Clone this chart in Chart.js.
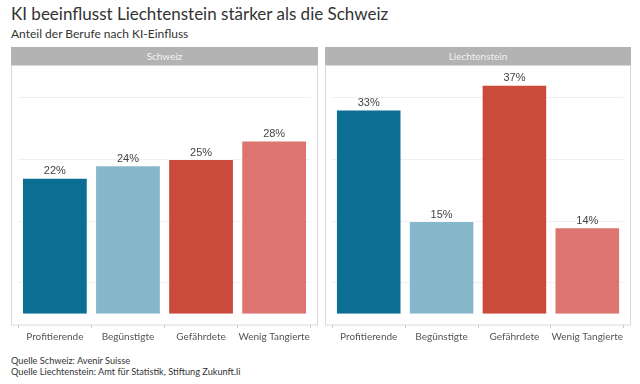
<!DOCTYPE html>
<html>
<head>
<meta charset="utf-8">
<script src="https://cdn.jsdelivr.net/npm/chart.js@4"></script>
<style>
  body { margin: 0; width: 640px; height: 384px; background: #fff; font-family: Lato, sans-serif; position: relative; overflow: hidden; }
  .title { position: absolute; left: 11px; top: 3px; font-size: 17px; color: #333; }
  .subtitle { position: absolute; left: 11px; top: 26px; font-size: 12px; color: #333; }
  .strip { position: absolute; top: 47px; height: 18px; background: #b3b3b3; color: #f2f2f2; font-size: 10px; line-height: 18px; text-align: center; }
  .panel { position: absolute; top: 65px; }
  .caption { position: absolute; left: 11px; top: 356px; font-size: 9.2px; line-height: 10.5px; color: #333; }
</style>
</head>
<body>
<div class="title">KI beeinflusst Liechtenstein stärker als die Schweiz</div>
<div class="subtitle">Anteil der Berufe nach KI-Einfluss</div>

<div class="strip" style="left:11px; width:307px;">Schweiz</div>
<div class="strip" style="left:325px; width:306px;">Liechtenstein</div>

<div class="panel" style="left:11px; width:307px; height:282px;"><canvas id="chCH"></canvas></div>
<div class="panel" style="left:325px; width:306px; height:282px;"><canvas id="chLI"></canvas></div>

<div class="caption">Quelle Schweiz: Avenir Suisse<br>Quelle Liechtenstein: Amt für Statistik, Stiftung Zukunft.li</div>

<script>
// Data
const categories = ['Profitierende', 'Begünstigte', 'Gefährdete', 'Wenig Tangierte'];
const valuesSchweiz = [22, 24, 25, 28];
const valuesLiechtenstein = [33, 15, 37, 14];
const gridTicks = [5, 15, 25, 35];
const barColors = ['#0b6e92', '#86b7ca', '#ca4a3b', '#dc756f'];

// panel border + value labels
const panelPlugin = {
  id: 'panel',
  beforeDraw(chart) {
    const ctx = chart.ctx;
    const a = chart.chartArea;
    ctx.save();
    ctx.strokeStyle = '#d9d9d9';
    ctx.lineWidth = 1;
    ctx.strokeRect(0.5, 0.5, chart.width - 1, a.bottom - 0.5);
    ctx.restore();
  },
  afterDatasetsDraw(chart) {
    const ctx = chart.ctx;
    const meta = chart.getDatasetMeta(0);
    const data = chart.data.datasets[0].data;
    ctx.save();
    ctx.fillStyle = '#444';
    ctx.font = '11px "Liberation Sans", Arial, sans-serif';
    ctx.textAlign = 'center';
    ctx.textBaseline = 'bottom';
    meta.data.forEach((bar, i) => {
      ctx.fillText(data[i] + '%', bar.x, bar.y - 1);
    });
    ctx.restore();
  }
};

function makeChart(id, values) {
  const el = document.getElementById(id);
  const w = el.parentNode.clientWidth;
  const sidePad = w * 0.1 / 4.2;
  return new Chart(el, {
    type: 'bar',
    data: {
      labels: categories,
      datasets: [{
        data: values,
        backgroundColor: barColors,
        borderColor: 'rgba(255,255,255,0.6)',
        borderWidth: 1,
        categoryPercentage: 1,
        barPercentage: 0.9
      }]
    },
    options: {
      responsive: true,
      maintainAspectRatio: false,
      animation: false,
      layout: { padding: { left: sidePad, right: sidePad, top: 0, bottom: 0 } },
      plugins: {
        legend: { display: false },
        tooltip: { enabled: false }
      },
      scales: {
        x: {
          offset: true,
          grid: { drawOnChartArea: false, color: '#ccc', tickLength: 3 },
          border: { display: false },
          ticks: {
            color: '#555',
            padding: 3,
            maxRotation: 0,
            autoSkip: false,
            font: { family: 'Lato', size: 10 }
          },
          afterFit: s => { s.height = 22; }
        },
        y: {
          min: -1.8,
          max: 40.2,
          afterBuildTicks: s => { s.ticks = gridTicks.map(v => ({ value: v })); },
          grid: { color: '#f0f0f0', drawTicks: false },
          border: { display: false },
          ticks: { display: false },
          afterFit: s => { s.width = 0; }
        }
      }
    },
    plugins: [panelPlugin]
  });
}

makeChart('chCH', valuesSchweiz);
makeChart('chLI', valuesLiechtenstein);
</script>
</body>
</html>
